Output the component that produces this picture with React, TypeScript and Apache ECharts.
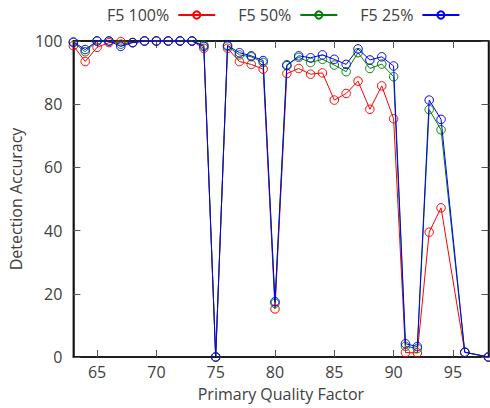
import React, { useEffect, useRef } from "react";
import * as echarts from "echarts";

const xValues = [63, 64, 65, 66, 67, 68, 69, 70, 71, 72, 73, 74, 75, 76, 77, 78, 79, 80, 81, 82, 83, 84, 85, 86, 87, 88, 89, 90, 91, 92, 93, 94, 96, 98];
const f5_100 = [98.5, 93.5, 98, 99.5, 99.8, 99.5, 100, 100, 100, 100, 100, 97.7, 0, 97.7, 93.5, 92.6, 91.1, 15.2, 89.7, 91.3, 89.5, 89.9, 81.3, 83.4, 87.3, 78.4, 85.8, 75.4, 1.4, 1.3, 39.5, 47.2, 1.5, 0];
const f5_50 = [99.5, 96.6, 100, 100, 99, 99.5, 100, 100, 100, 100, 100, 98.7, 0, 98.3, 95.6, 95, 93.2, 17, 92.5, 94.8, 93.2, 94.2, 92.4, 90.3, 96.3, 91.3, 92.7, 88.7, 3.4, 2.7, 78.3, 71.9, 1.5, 0];
const f5_25 = [99.7, 97.3, 100, 100, 98.3, 99.5, 100, 100, 100, 100, 100, 98.3, 0, 98.6, 96.3, 95.3, 93.8, 17.5, 92.2, 95.3, 94.7, 95.6, 94.2, 92.6, 97.5, 94, 95, 92.1, 4.2, 3.3, 81.3, 75.2, 1.5, 0];
const xTicks = [65, 70, 75, 80, 85, 90, 95];
const seriesNames = ["F5 100%", "F5 50%", "F5 25%"];
const seriesColors = ["#ff0000", "#008000", "#0000ff"];

const FONT = "Open Sans";
const TEXT = "#404040";
const FS = 16;

export default function App() {
  const ref = useRef<HTMLDivElement>(null);
  useEffect(() => {
    document.body.style.margin = "0";
    document.body.style.overflow = "hidden";
    const chart = echarts.init(ref.current!, null, { renderer: "svg" });
    const values = [f5_100, f5_50, f5_25];
    const mk = (i: number) => ({
      name: seriesNames[i],
      type: "line",
      xAxisIndex: 0,
      yAxisIndex: 0,
      data: xValues.map((x, k) => [x, values[i][k]]),
      symbol: "circle",
      symbolSize: 8.5,
      showAllSymbol: true,
      clip: false,
      lineStyle: { color: seriesColors[i], width: 1 },
      itemStyle: { color: "rgba(0,0,0,0)", borderColor: seriesColors[i], borderWidth: 1 },
      emphasis: { disabled: true },
      z: 2 + i,
    });
    const axisLine = () => ({ show: true, onZero: false, lineStyle: { color: "#111", width: 1.5 } });
    const tick = () => ({ show: true, inside: true, length: 7, lineStyle: { color: "#555", width: 1 } });
    chart.setOption({
      animation: false,
      textStyle: { fontFamily: FONT },
      legend: {
        data: seriesNames,
        left: 102,
        top: 2,
        align: "right",
        itemWidth: 37,
        itemHeight: 9,
        itemGap: 22,
        textStyle: { fontFamily: FONT, fontSize: FS, color: TEXT, padding: [0, 4, 0, 0] },
      },
      grid: {
        left: 69,
        right: 1.5,
        top: 41,
        bottom: 51,
        containLabel: false,
        show: true,
        borderColor: "#111",
        borderWidth: 1.5,
        backgroundColor: "transparent",
      },
      xAxis: [
        {
          type: "value",
          min: 63,
          max: 98,
          position: "bottom",
          name: "Primary Quality Factor",
          nameLocation: "middle",
          nameGap: 29,
          nameTextStyle: { fontFamily: FONT, fontSize: FS, color: TEXT },
          axisLine: axisLine(),
          axisTick: { ...tick(), customValues: xTicks },
          axisLabel: { customValues: xTicks, fontFamily: FONT, fontSize: FS, color: TEXT, margin: 7 },
          splitLine: { show: false },
        },
        {
          type: "value",
          min: 63,
          max: 98,
          position: "top",
          axisLine: axisLine(),
          axisTick: { ...tick(), customValues: xTicks },
          axisLabel: { show: false, customValues: xTicks },
          splitLine: { show: false },
        },
      ],
      yAxis: [
        {
          type: "value",
          min: 0,
          max: 100,
          interval: 20,
          position: "left",
          name: "Detection Accuracy",
          nameLocation: "middle",
          nameGap: 43,
          nameTextStyle: { fontFamily: FONT, fontSize: FS, color: TEXT },
          axisLine: axisLine(),
          axisTick: tick(),
          axisLabel: { fontFamily: FONT, fontSize: FS, color: TEXT, margin: 11 },
          splitLine: { show: false },
        },
        {
          type: "value",
          min: 0,
          max: 100,
          interval: 20,
          position: "right",
          axisLine: axisLine(),
          axisTick: tick(),
          axisLabel: { show: false },
          splitLine: { show: false },
        },
      ],
      series: [
        mk(0),
        mk(1),
        mk(2),
        { name: "frame", type: "line", xAxisIndex: 1, yAxisIndex: 1, data: [], silent: true },
      ],
    });
    return () => chart.dispose();
  }, []);
  return <div ref={ref} style={{ width: 490, height: 408 }} />;
}
